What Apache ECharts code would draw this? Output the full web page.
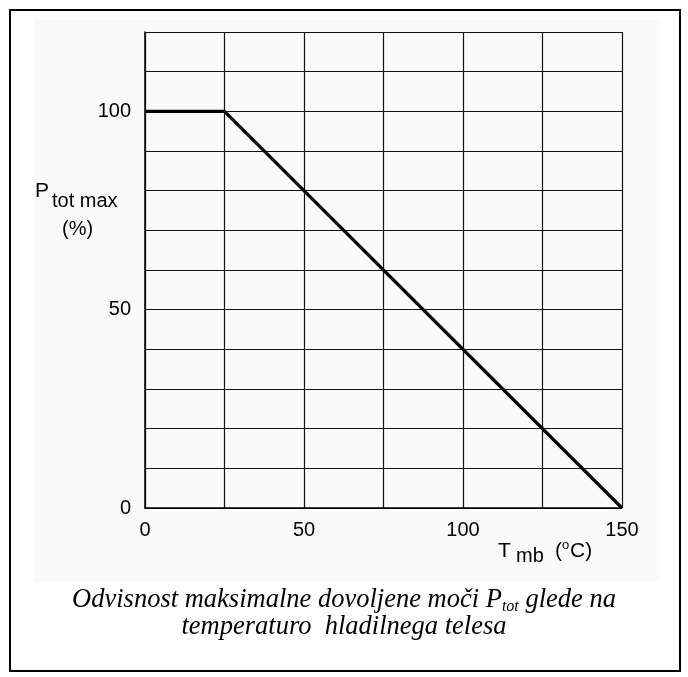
<!DOCTYPE html>
<html>
<head>
<meta charset="utf-8">
<script src="https://cdn.jsdelivr.net/npm/echarts@6/dist/echarts.min.js"></script>
<style>html,body{margin:0;padding:0;background:#fff;}#c{width:688px;height:677px;}</style>
</head>
<body>
<div id="c"></div>
<script>
// Data
const temperature = [0, 25, 150];          // T mb (°C)
const powerPercent = [100, 100, 0];        // P tot max (%)
const xTickLabels = [0, 50, 100, 150];
const yTickLabels = [0, 50, 100];

const chart = echarts.init(document.getElementById('c'), null, {renderer: 'canvas'});
const sans = '"Liberation Sans", Arial, sans-serif';
const serif = '"Liberation Serif", "Times New Roman", serif';

function txt(text, x, y, size, extra) {
  return {
    type: 'text', z: 50, silent: true,
    style: Object.assign({text: text, x: x, y: y, fontFamily: sans, fontSize: size, fill: '#000',
      align: 'left', verticalAlign: 'middle'}, extra || {})
  };
}

const option = {
  backgroundColor: '#ffffff',
  animation: false,
  grid: {left: 145, right: 66, top: 32, bottom: 169, containLabel: false},
  xAxis: {
    type: 'value', min: 0, max: 150, interval: 25,
    axisLine: {show: true, lineStyle: {color: '#000', width: 1.5}},
    axisTick: {show: false},
    splitLine: {show: true, lineStyle: {color: '#111', width: 1.2}},
    axisLabel: {
      color: '#000', fontFamily: sans, fontSize: 20, margin: 12,
      formatter: v => xTickLabels.includes(v) ? String(v) : ''
    }
  },
  yAxis: {
    type: 'value', min: 0, max: 120, interval: 10,
    axisLine: {show: true, lineStyle: {color: '#000', width: 1.5}},
    axisTick: {show: false},
    splitLine: {show: true, lineStyle: {color: '#111', width: 1.2}},
    axisLabel: {
      color: '#000', fontFamily: sans, fontSize: 20, margin: 14, padding: [4, 0, 0, 0],
      formatter: v => yTickLabels.includes(v) ? String(v) : ''
    }
  },
  series: [{
    type: 'line',
    data: temperature.map((t, i) => [t, powerPercent[i]]),
    showSymbol: false,
    symbol: 'none',
    lineStyle: {color: '#000', width: 3.2},
    z: 5
  }],
  graphic: [
    {type: 'rect', silent: true, z: -10, shape: {x: 34, y: 20, width: 626, height: 562}, style: {fill: '#fafafa'}},
    {type: 'rect', silent: true, z: 100, shape: {x: 10, y: 10, width: 670, height: 661}, style: {fill: null, stroke: '#000', lineWidth: 2}},
    // y axis name
    txt('P', 35, 191, 21),
    txt('tot max', 52, 201, 20),
    txt('(%)', 62, 229, 20),
    // x axis name
    txt('T', 498, 551, 21),
    txt('mb', 516, 556, 20),
    txt('(', 555, 551, 21),
    txt('o', 562, 545.5, 13),
    txt('C)', 570, 551, 21),
    // caption
    {
      type: 'text', z: 50, silent: true,
      style: {
        x: 344, y: 600, align: 'center', verticalAlign: 'middle',
        text: '{a|Odvisnost maksimalne dovoljene moči P}{s|tot}{a| glede na}',
        rich: {
          a: {fontFamily: serif, fontStyle: 'italic', fontSize: 26.5, lineHeight: 30, fill: '#000'},
          s: {fontFamily: serif, fontStyle: 'italic', fontSize: 16, lineHeight: 16, fill: '#000', verticalAlign: 'bottom'}
        }
      }
    },
    txt('temperaturo  hladilnega telesa', 344, 627, 26.5, {fontFamily: serif, fontStyle: 'italic', align: 'center'})
  ]
};
chart.setOption(option);
</script>
</body>
</html>
